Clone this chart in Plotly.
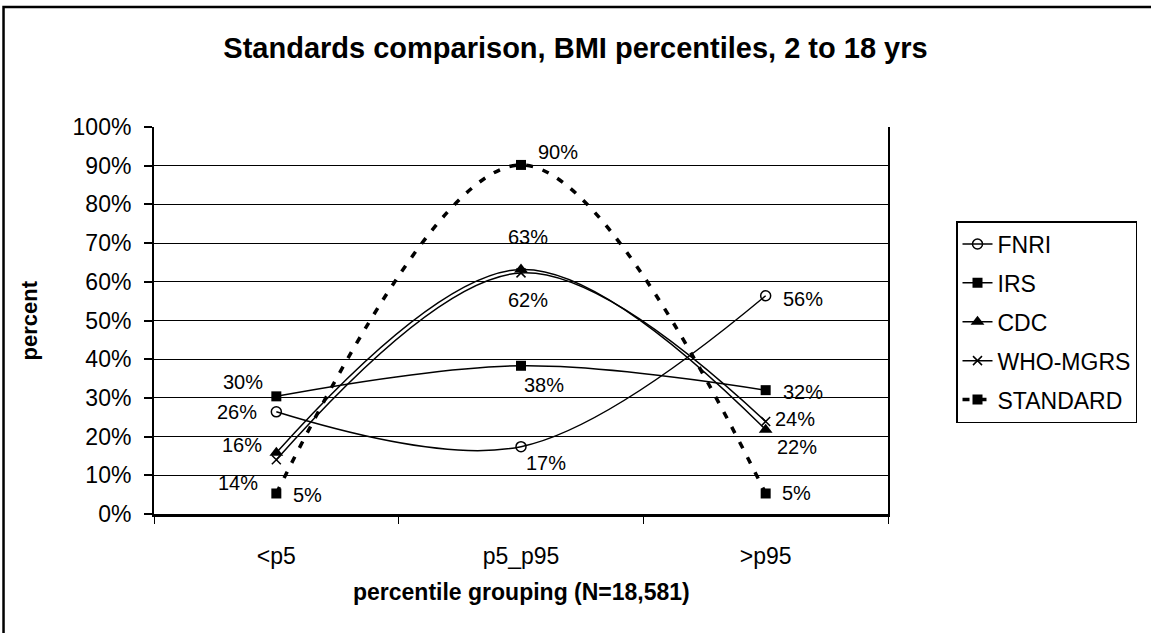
import plotly.graph_objects as go

categories = ["<p5", "p5_p95", ">p95"]
series_names = ["FNRI", "IRS", "CDC", "WHO-MGRS", "STANDARD"]
fnri = [26.4, 17.4, 56.4]
irs = [30.4, 38.3, 32.0]
cdc = [15.8, 63.2, 21.8]
who = [14.0, 62.3, 23.9]
standard = [5.3, 90.2, 5.3]
fnri_labels = ["26%", "17%", "56%"]
irs_labels = ["30%", "38%", "32%"]
cdc_labels = ["16%", "63%", "22%"]
who_labels = ["14%", "62%", "24%"]
standard_labels = ["5%", "90%", "5%"]
y_ticks = [0, 10, 20, 30, 40, 50, 60, 70, 80, 90, 100]

values = [fnri, irs, cdc, who, standard]
labels = [fnri_labels, irs_labels, cdc_labels, who_labels, standard_labels]

# styles
FONT = "Liberation Sans, Arial, sans-serif"
markers = [
    dict(symbol="circle-open", size=10, color="black", line=dict(width=1.5, color="black")),
    dict(symbol="square", size=10, color="black"),
    dict(symbol="triangle-up", size=12, color="black"),
    dict(symbol="x-thin-open", size=9, color="black", line=dict(width=1.5, color="black")),
    dict(symbol="square", size=10, color="black"),
]
lines = [
    dict(color="black", width=1.5, shape="spline", smoothing=1),
    dict(color="black", width=1.5, shape="spline", smoothing=1),
    dict(color="black", width=1.5, shape="spline", smoothing=1),
    dict(color="black", width=1.5, shape="spline", smoothing=1),
    dict(color="black", width=3.5, shape="spline", smoothing=1, dash="7px,10px"),
]
# label offsets (px) per series/point
offsets = [
    [(-39, 0), (25, -16), (37, -3)],
    [(-33, 14), (23, -19), (37, -2)],
    [(-34, 8), (7, 32), (31, -17)],
    [(-38, -23), (7, -27), (29, 3)],
    [(31, -2), (37, 13), (31, 0)],
]

fig = go.Figure()
for i, name in enumerate(series_names):
    fig.add_trace(go.Scatter(
        x=categories, y=values[i], name=name, mode="lines+markers",
        line=lines[i], marker=markers[i], legendgroup=name,
    ))

annotations = []
for i in range(len(series_names)):
    for j, c in enumerate(categories):
        annotations.append(dict(
            x=c, y=values[i][j], xref="x", yref="y", text=labels[i][j],
            showarrow=False, xshift=offsets[i][j][0], yshift=offsets[i][j][1],
            font=dict(family=FONT, size=20, color="black"),
            xanchor="center", yanchor="middle",
        ))

annotations.append(dict(
    x=-0.169, y=0.5, xref="paper", yref="paper", text="<b>percent</b>",
    textangle=-90, showarrow=False, font=dict(family=FONT, size=22, color="black"),
    xanchor="center", yanchor="middle"))
annotations.append(dict(
    x=0.5, y=-0.2016, xref="paper", yref="paper", text="<b>percentile grouping (N=18,581)</b>",
    showarrow=False, font=dict(family=FONT, size=23, color="black"),
    xanchor="center", yanchor="middle"))

fig.update_layout(
    width=1151, height=633,
    margin=dict(l=154, r=263, t=127, b=119),
    paper_bgcolor="white", plot_bgcolor="white",
    font=dict(family=FONT, size=23, color="black"),
    title=dict(text="<b>Standards comparison, BMI percentiles, 2 to 18 yrs</b>",
               x=0.5, xref="container", xanchor="center", y=1 - 48 / 633, yref="container",
               yanchor="middle", font=dict(family=FONT, size=29, color="black")),
    showlegend=True,
    legend=dict(x=(956 - 154) / 734, y=(514 - 221) / 387, xanchor="left", yanchor="top",
                bordercolor="black", borderwidth=1.5, bgcolor="white",
                font=dict(family=FONT, size=23, color="black"),
                tracegroupgap=6, traceorder="grouped"),
    annotations=annotations,
    shapes=[dict(type="rect", xref="paper", yref="paper",
                 x0=-0.205, x1=1.45, y0=-0.45, y1=1.310,
                 line=dict(color="black", width=2.5), layer="below")],
)
fig.update_xaxes(
    type="category", tickson="boundaries", ticks="outside", ticklen=7, tickwidth=1,
    tickcolor="black", showline=True, linecolor="black", linewidth=2.5,
    showgrid=False, ticklabelstandoff=20, tickfont=dict(family=FONT, size=23),
    range=[-0.5, 2.5],
)
fig.update_yaxes(
    range=[0, 100], tickvals=y_ticks, ticktext=[f"{v}%" for v in y_ticks],
    ticks="outside", ticklen=8, tickwidth=1.5, tickcolor="black",
    showline=True, linecolor="black", linewidth=2, mirror=True,
    showgrid=True, gridcolor="black", gridwidth=1.2, zeroline=False,
    ticklabelstandoff=8, tickfont=dict(family=FONT, size=23),
)

fig.write_html("out.html")
